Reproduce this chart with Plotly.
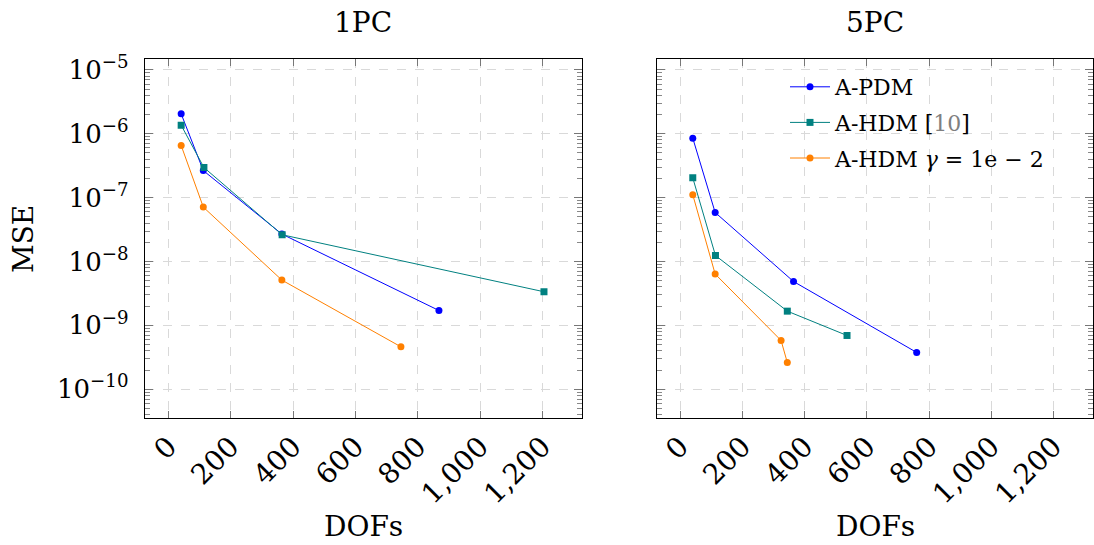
import plotly.graph_objects as go

# DOFs / MSE per method, one-PC and five-PC cases
dofs_pdm_1pc = [41, 112, 364, 868]
mse_pdm_1pc = [2.05e-6, 2.65e-7, 2.69e-8, 1.71e-9]
dofs_hdm_1pc = [41, 114, 365, 1205]
mse_hdm_1pc = [1.36e-6, 2.96e-7, 2.62e-8, 3.36e-9]
dofs_hdmg_1pc = [41, 112, 364, 746]
mse_hdmg_1pc = [6.55e-7, 7.1e-8, 5.12e-9, 4.62e-10]

dofs_pdm_5pc = [40, 112, 364, 760]
mse_pdm_5pc = [8.53e-7, 5.85e-8, 4.86e-9, 3.77e-10]
dofs_hdm_5pc = [40, 113, 344, 536]
mse_hdm_5pc = [2.04e-7, 1.24e-8, 1.67e-9, 6.95e-10]
dofs_hdmg_5pc = [40, 112, 324, 344]
mse_hdmg_5pc = [1.11e-7, 6.36e-9, 5.8e-10, 2.62e-10]

panel_titles = ["1PC", "5PC"]
series_names = ["A-PDM", "A-HDM [<span style='color:#7f7f7f'>10</span>]",
                "A-HDM <i>γ</i> = 1e − 2"]
x_tickvals = [0, 200, 400, 600, 800, 1000, 1200]
x_ticktext = ["0", "200", "400", "600", "800", "1,000", "1,200"]
y_tickvals = [1e-5, 1e-6, 1e-7, 1e-8, 1e-9, 1e-10]
y_ticktext = ["10<sup>−5</sup>", "10<sup>−6</sup>", "10<sup>−7</sup>",
              "10<sup>−8</sup>", "10<sup>−9</sup>", "10<sup>−10</sup>"]

FONT = "DejaVu Serif"
colors = ["#0000ff", "#008080", "#ff8000"]
symbols = ["circle", "square", "circle"]

fig = go.Figure()

panels = [
    [(dofs_pdm_1pc, mse_pdm_1pc), (dofs_hdm_1pc, mse_hdm_1pc), (dofs_hdmg_1pc, mse_hdmg_1pc)],
    [(dofs_pdm_5pc, mse_pdm_5pc), (dofs_hdm_5pc, mse_hdm_5pc), (dofs_hdmg_5pc, mse_hdmg_5pc)],
]
axes = [("x", "y"), ("x2", "y2")]
for p, series in enumerate(panels):
    for i, (xs, ys) in enumerate(series):
        fig.add_trace(go.Scatter(
            x=xs, y=ys, mode="lines+markers", name=series_names[i],
            xaxis=axes[p][0], yaxis=axes[p][1],
            line=dict(color=colors[i], width=1),
            marker=dict(color=colors[i], symbol=symbols[i], size=7),
            legendgroup=f"s{i}", showlegend=(p == 1),
        ))

W, H = 1094, 545
domains_x = [[144.7 / W, 581.7 / W], [656.7 / W, 1092.7 / W]]
dom_y = [1 - 418 / H, 1 - 59 / H]

common_x = dict(
    range=[-76, 1326], tickmode="array", tickvals=x_tickvals, ticktext=x_ticktext,
    tickangle=-45, ticks="inside", ticklen=7, tickcolor="#777",
    showline=True, linecolor="black", linewidth=1, mirror="allticks",
    showgrid=True, gridcolor="#d9d9d9", griddash="dash", gridwidth=1,
    zeroline=False, tickfont=dict(family=FONT, size=28, color="black"),
    automargin=False,
)
common_y = dict(
    type="log", range=[-10.45, -4.83], tickmode="array", tickvals=y_tickvals,
    ticks="inside", ticklen=8, tickcolor="#777",
    showline=True, linecolor="black", linewidth=1, mirror="allticks",
    showgrid=True, gridcolor="#d9d9d9", griddash="dash", gridwidth=1,
    zeroline=False, tickfont=dict(family=FONT, size=26, color="black"),
    minor=dict(ticks="inside", ticklen=5, tickcolor="#888", dtick="D1", showgrid=False),
    automargin=False,
)

fig.update_layout(
    width=W, height=H,
    margin=dict(l=0, r=0, t=0, b=0),
    paper_bgcolor="white", plot_bgcolor="white",
    xaxis=dict(common_x, domain=domains_x[0], anchor="y"),
    xaxis2=dict(common_x, domain=domains_x[1], anchor="y2"),
    yaxis=dict(common_y, domain=dom_y, anchor="x", ticktext=y_ticktext, ticklabelstandoff=10),
    yaxis2=dict(common_y, domain=dom_y, anchor="x2", showticklabels=False),
    legend=dict(
        x=785 / W, y=1 - 66 / H, xanchor="left", yanchor="top",
        font=dict(family=FONT, size=22, color="black"),
        bgcolor="rgba(255,255,255,0)", borderwidth=0,
        itemwidth=40, tracegroupgap=4,
    ),
    showlegend=True,
)

annotations = [
    dict(text=panel_titles[0], x=363 / W, y=1 - 22 / H),
    dict(text=panel_titles[1], x=875 / W, y=1 - 22 / H),
    dict(text="DOFs", x=363 / W, y=1 - 526 / H),
    dict(text="DOFs", x=875 / W, y=1 - 526 / H),
    dict(text="MSE", x=23 / W, y=1 - 239 / H, textangle=-90),
]
for a in annotations:
    fig.add_annotation(
        xref="paper", yref="paper", showarrow=False, xanchor="center", yanchor="middle",
        font=dict(family=FONT, size=28, color="black"), **a,
    )

fig.write_html("out.html")
